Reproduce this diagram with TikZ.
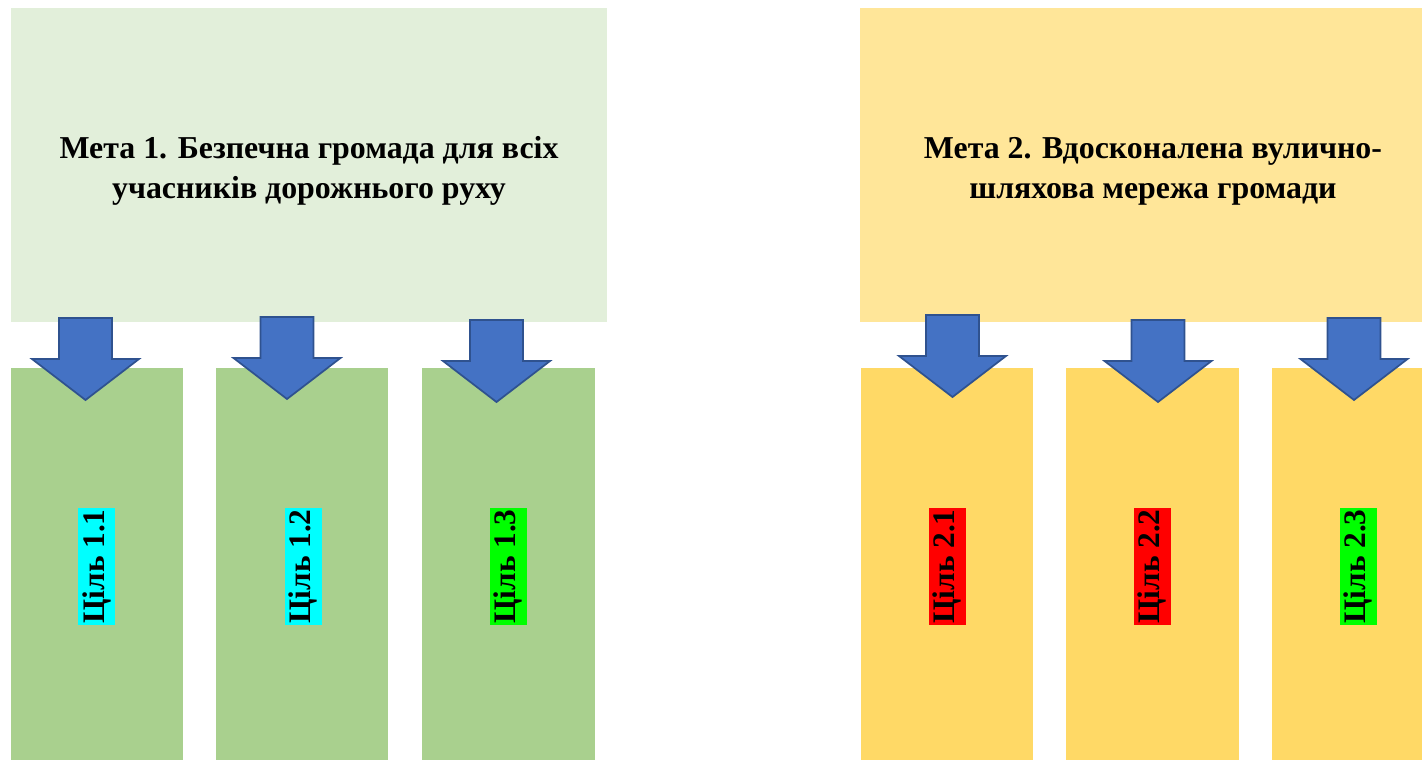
\documentclass[tikz,border=0pt]{standalone}
\usepackage{fontspec}
\setmainfont{Liberation Serif}
\usetikzlibrary{fit,positioning}
\definecolor{metaonebg}{HTML}{E2EFDA}
\definecolor{aimonebg}{HTML}{A9D08E}
\definecolor{metatwobg}{HTML}{FFE699}
\definecolor{aimtwobg}{HTML}{FFD966}
\definecolor{arrowfill}{HTML}{4472C4}
\definecolor{arrowline}{HTML}{2F528F}
\definecolor{tagcyan}{HTML}{00FFFF}
\definecolor{taggreen}{HTML}{00FF00}
\definecolor{tagred}{HTML}{FF0000}
\tikzset{
  goalbox/.style={rectangle, draw=none, inner sep=0pt},
  goaltext/.style={align=center, font=\bfseries\fontsize{23.9}{30}\selectfont},
  tag/.style={rotate=90, inner sep=0pt, minimum width=87.75pt, minimum height=27.75pt,
    font=\bfseries\fontsize{23.5}{26}\selectfont},
  downarrow/.pic={
    \draw[fill=arrowfill, draw=arrowline, line width=1.3pt, line join=miter]
      (-26.5,0) -- (26.5,0) -- (26.5,41) -- (53.5,41) -- (0,82) -- (-53.5,41) -- (-26.5,41) -- cycle;
  }
}
\begin{document}
\begin{tikzpicture}[x=0.75pt, y=-0.75pt]
\useasboundingbox (0,0) rectangle (1422,760);
% goals
\node[goalbox, fill=metaonebg, fit={(11,8) (607,322)}] (meta1) {};
\node[goalbox, fill=metatwobg, fit={(860,8) (1422,322)}] (meta2) {};
\node[goaltext] (meta1text) at (309,171) {Мета 1. Безпечна громада для всіх\\учасників дорожнього руху};
\node[goaltext] (meta2text) at (1153,171) {Мета 2. Вдосконалена вулично-\\шляхова мережа громади};
% aims
\node[goalbox, fill=aimonebg, fit={(11,368) (183,760)}] (aim11) {};
\node[goalbox, fill=aimonebg, fit={(216,368) (388,760)}] (aim12) {};
\node[goalbox, fill=aimonebg, fit={(422,368) (595,760)}] (aim13) {};
\node[goalbox, fill=aimtwobg, fit={(861,368) (1033,760)}] (aim21) {};
\node[goalbox, fill=aimtwobg, fit={(1066,368) (1239,760)}] (aim22) {};
\node[goalbox, fill=aimtwobg, fit={(1272,368) (1422,760)}] (aim23) {};
% arrows
\pic at (85.5,318) {downarrow};
\pic at (287,317) {downarrow};
\pic at (496.5,320) {downarrow};
\pic at (952.5,315) {downarrow};
\pic at (1158,320) {downarrow};
\pic at (1354,318) {downarrow};
% labels
\node[tag, fill=tagcyan] (tag11) at (96.5,566.5) {Ціль 1.1};
\node[tag, fill=tagcyan] (tag12) at (303,566.5) {Ціль 1.2};
\node[tag, fill=taggreen] (tag13) at (508,566.5) {Ціль 1.3};
\node[tag, fill=tagred] (tag21) at (947,566.5) {Ціль 2.1};
\node[tag, fill=tagred] (tag22) at (1152,566.5) {Ціль 2.2};
\node[tag, fill=taggreen] (tag23) at (1358,566.5) {Ціль 2.3};
\end{tikzpicture}
\end{document}
